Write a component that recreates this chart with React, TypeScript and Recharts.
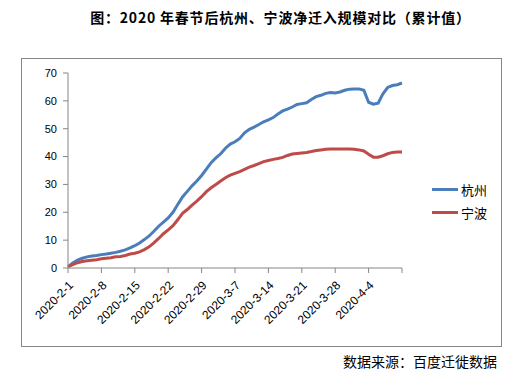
import React from 'react';
import { LineChart, Line, XAxis, YAxis } from 'recharts';

// category labels: 2020-2-1 .. 2020-4-11
const monthDays: [number, number][] = [[2, 29], [3, 31], [4, 11]];
const dates: string[] = [];
monthDays.forEach(([m, n]) => {
  for (let d = 1; d <= n; d++) dates.push(`2020-${m}-${d}`);
});

const hangzhou = [
  0.5, 1.8, 2.8, 3.5, 4.0, 4.3, 4.5, 4.8, 5.0, 5.3,
  5.6, 6.0, 6.5, 7.2, 8.0, 9.0, 10.2, 11.5, 13.2, 15.0,
  16.5, 18.0, 20.0, 22.8, 25.5, 27.5, 29.5, 31.2, 33.2, 35.5,
  37.8, 39.5, 41.0, 43.0, 44.5, 45.3, 46.5, 48.5, 49.8, 50.6,
  51.5, 52.5, 53.2, 54.0, 55.3, 56.4, 57.0, 57.8, 58.7, 59.0,
  59.3, 60.5, 61.5, 62.0, 62.7, 63.0, 62.8, 63.2, 63.8, 64.2,
  64.3, 64.3, 63.8, 59.5, 58.8, 59.2, 62.5, 64.8, 65.5, 65.8,
  66.4,
];

const ningbo = [
  0.5, 1.2, 1.9, 2.3, 2.6, 2.8, 3.0, 3.3, 3.5, 3.7,
  4.0, 4.1, 4.5, 5.0, 5.3, 5.8, 6.6, 7.6, 9.0, 10.6,
  12.3, 13.7, 15.2, 17.3, 19.6, 21.0, 22.6, 24.0, 25.6, 27.4,
  28.8, 30.0, 31.2, 32.4, 33.3, 34.0, 34.6, 35.4, 36.2, 36.8,
  37.5, 38.2, 38.6, 39.0, 39.3, 39.7, 40.4, 40.9, 41.1, 41.3,
  41.5, 41.8, 42.2, 42.4, 42.6, 42.7, 42.7, 42.7, 42.7, 42.7,
  42.6, 42.4, 42.0, 40.8, 39.8, 39.8, 40.3, 41.0, 41.5, 41.6,
  41.6,
];

const yTicks = [0, 10, 20, 30, 40, 50, 60, 70];
const hiddenLabel = '2020-4-11';

const series = [
  { key: 'hz', name: '杭州', color: '#4a7ebb' },
  { key: 'nb', name: '宁波', color: '#be4b48' },
];

const data = dates.map((date, i) => ({ date, hz: hangzhou[i], nb: ningbo[i] }));

const AXIS = '#868686';
const numFont = '"Liberation Sans", Arial, sans-serif';
const cjkFont = '"Noto Sans CJK SC", sans-serif';

const DateTick = (props: any) => {
  const { x, y, payload } = props;
  if (payload.value === hiddenLabel) return null;
  return (
    <g transform={`translate(${x + 3},${y + 8}) rotate(-45)`}>
      <text x={0} y={0} dy="0.35em" textAnchor="end" fontSize={12} fontFamily={numFont} fill="#000">
        {payload.value}
      </text>
    </g>
  );
};

export default function App() {
  return (
    <div style={{ position: 'absolute', left: 0, top: 0, width: 511, height: 373, background: '#fff' }}>
      <div
        style={{
          position: 'absolute', left: 0, width: 511, top: 7, textAlign: 'center',
          paddingLeft: 50, boxSizing: 'border-box', letterSpacing: 0.8,
          fontFamily: cjkFont, fontWeight: 'bold', fontSize: 14, color: '#000',
        }}
      >
        图：2020 年春节后杭州、宁波净迁入规模对比（累计值）
      </div>
      <div
        style={{
          position: 'absolute', left: 21, top: 58, width: 479, height: 287,
          border: `1px solid ${AXIS}`, pointerEvents: 'none',
        }}
      />
      <div style={{ position: 'absolute', left: 0, top: 0 }}>
        <LineChart width={511} height={373} data={data} margin={{ top: 73, right: 109, bottom: 75, left: 8 }}>
          <XAxis
            dataKey="date"
            interval={6}
            tick={<DateTick />}
            tickLine={{ stroke: AXIS }}
            axisLine={{ stroke: AXIS }}
            tickSize={5}
            height={30}
          />
          <YAxis
            domain={[0, 70]}
            ticks={yTicks}
            width={60}
            tickSize={5}
            tickLine={{ stroke: AXIS }}
            axisLine={{ stroke: AXIS }}
            tick={{ fontSize: 11, fontFamily: numFont, fill: '#000' }}
            tickMargin={6}
          />
          {series.map((s) => (
            <Line
              key={s.key}
              type="linear"
              dataKey={s.key}
              name={s.name}
              stroke={s.color}
              strokeWidth={3}
              dot={false}
              isAnimationActive={false}
            />
          ))}
        </LineChart>
      </div>
      <div style={{ position: 'absolute', left: 432, top: 178, fontFamily: cjkFont, fontSize: 13, color: '#000' }}>
        {series.map((s) => (
          <div key={s.key} style={{ display: 'flex', alignItems: 'center', height: 23 }}>
            <span style={{ display: 'inline-block', width: 26, height: 3, background: s.color, marginRight: 3 }} />
            <span>{s.name}</span>
          </div>
        ))}
      </div>
      <div
        style={{
          position: 'absolute', left: 343, top: 351, fontFamily: cjkFont, fontSize: 14, color: '#000',
          whiteSpace: 'nowrap',
        }}
      >
        数据来源：百度迁徙数据
      </div>
    </div>
  );
}
